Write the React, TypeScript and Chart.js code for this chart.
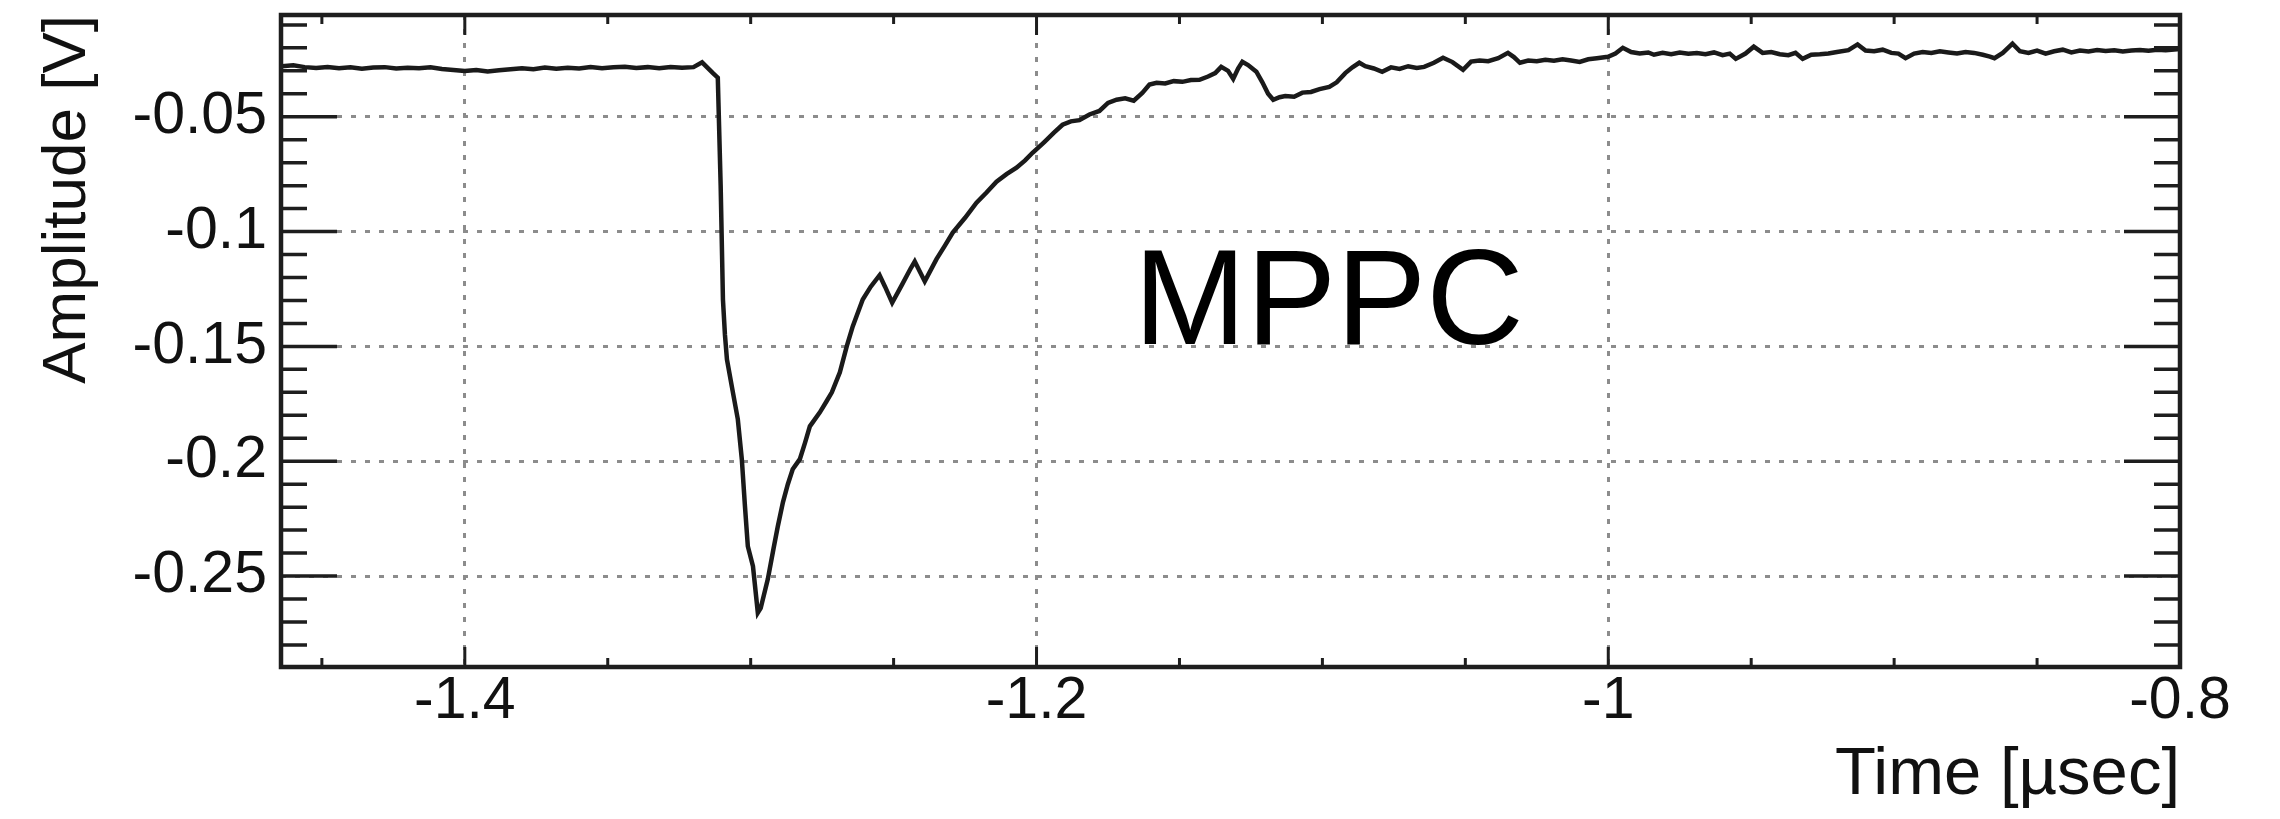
import React, { useEffect, useRef } from "react";
import { Chart, registerables } from "chart.js";

Chart.register(...registerables);

// ---- data ----
const TIME_US = [
  -1.464, -1.460, -1.456, -1.452, -1.448, -1.444, -1.440, -1.436, -1.432, -1.428,
  -1.424, -1.420, -1.416, -1.412, -1.408, -1.404, -1.400, -1.396, -1.392, -1.388,
  -1.384, -1.380, -1.376, -1.372, -1.368, -1.364, -1.360, -1.356, -1.352, -1.348,
  -1.344, -1.340, -1.336, -1.332, -1.328, -1.324, -1.320, -1.317, -1.3132, -1.3115,
  -1.3105, -1.3097, -1.3090, -1.3083, -1.3066, -1.3045, -1.3031, -1.3020, -1.3010, -1.2992,
  -1.2975, -1.2965, -1.2940, -1.2920, -1.2905, -1.2887, -1.2870, -1.2853, -1.2828, -1.2810,
  -1.2793, -1.2758, -1.2735, -1.2716, -1.2688, -1.2664, -1.2643, -1.2608, -1.2580, -1.2549,
  -1.2530, -1.2505, -1.2470, -1.2440, -1.2426, -1.2391, -1.2350, -1.2320, -1.2293, -1.2250,
  -1.2210, -1.2175, -1.2140, -1.2105, -1.2070, -1.2040, -1.2014, -1.1990, -1.1972, -1.1940,
  -1.1909, -1.1880, -1.1850, -1.1815, -1.1780, -1.1750, -1.1720, -1.1690, -1.1660, -1.1630,
  -1.1605, -1.1580, -1.1550, -1.1520, -1.1490, -1.1460, -1.1430, -1.1400, -1.1375, -1.1354,
  -1.1330, -1.1312, -1.1295, -1.1280, -1.1260, -1.1231, -1.1210, -1.1190, -1.1172, -1.1150,
  -1.1130, -1.1099, -1.1070, -1.1040, -1.1010, -1.0976, -1.0950, -1.0920, -1.0895, -1.0871,
  -1.0850, -1.0820, -1.0791, -1.0760, -1.0730, -1.0700, -1.0670, -1.0644, -1.0610, -1.0578,
  -1.0545, -1.0508, -1.0480, -1.0450, -1.0420, -1.0385, -1.0351, -1.0330, -1.0309, -1.0280,
  -1.0250, -1.0220, -1.0190, -1.0160, -1.0130, -1.0100, -1.0070, -1.0040, -1.0001, -0.9975,
  -0.9949, -0.9920, -0.9890, -0.9860, -0.9840, -0.9810, -0.9780, -0.9750, -0.9720, -0.9690,
  -0.9660, -0.9630, -0.9600, -0.9575, -0.9554, -0.9520, -0.9491, -0.9460, -0.9430, -0.9400,
  -0.9370, -0.9345, -0.9320, -0.9290, -0.9260, -0.9230, -0.9200, -0.9160, -0.9128, -0.9100,
  -0.9070, -0.9040, -0.9010, -0.8985, -0.8960, -0.8930, -0.8900, -0.8870, -0.8840, -0.8810,
  -0.8780, -0.8750, -0.8720, -0.8690, -0.8665, -0.8649, -0.8620, -0.8586, -0.8560, -0.8530,
  -0.8500, -0.8470, -0.8440, -0.8410, -0.8380, -0.8350, -0.8320, -0.8290, -0.8260, -0.8230,
  -0.8200, -0.8170, -0.8140, -0.8110, -0.8080, -0.8050, -0.8020, -0.8000,
];

const AMPLITUDE_V = [
  -0.0280, -0.0276, -0.0284, -0.0288, -0.0283, -0.0289, -0.0285, -0.0291, -0.0286, -0.0284,
  -0.0290, -0.0287, -0.0289, -0.0285, -0.0292, -0.0296, -0.0301, -0.0297, -0.0303, -0.0298,
  -0.0293, -0.0289, -0.0293, -0.0286, -0.0291, -0.0287, -0.0290, -0.0284, -0.0289, -0.0285,
  -0.0282, -0.0288, -0.0284, -0.0289, -0.0283, -0.0287, -0.0284, -0.0263, -0.0310, -0.0330,
  -0.0800, -0.1296, -0.1450, -0.1557, -0.1674, -0.1817, -0.1991, -0.2196, -0.2370, -0.2457,
  -0.2660, -0.2640, -0.2513, -0.2380, -0.2283, -0.2178, -0.2100, -0.2035, -0.1991, -0.1920,
  -0.1848, -0.1787, -0.1740, -0.1700, -0.1613, -0.1500, -0.1413, -0.1296, -0.1240, -0.1190,
  -0.1240, -0.1310, -0.1230, -0.1160, -0.1130, -0.1217, -0.1120, -0.1060, -0.1004, -0.0940,
  -0.0874, -0.0830, -0.0783, -0.0750, -0.0722, -0.0690, -0.0657, -0.0630, -0.0609, -0.0570,
  -0.0535, -0.0520, -0.0515, -0.0490, -0.0475, -0.0440, -0.0426, -0.0420, -0.0430, -0.0396,
  -0.0360, -0.0352, -0.0355, -0.0345, -0.0348, -0.0340, -0.0339, -0.0325, -0.0310, -0.0283,
  -0.0300, -0.0335, -0.0290, -0.0261, -0.0275, -0.0304, -0.0350, -0.0400, -0.0426, -0.0415,
  -0.0410, -0.0413, -0.0395, -0.0392, -0.0380, -0.0370, -0.0350, -0.0310, -0.0285, -0.0265,
  -0.0280, -0.0290, -0.0304, -0.0285, -0.0292, -0.0280, -0.0288, -0.0283, -0.0265, -0.0243,
  -0.0262, -0.0296, -0.0260, -0.0255, -0.0258, -0.0245, -0.0222, -0.0240, -0.0265, -0.0255,
  -0.0258, -0.0252, -0.0256, -0.0250, -0.0255, -0.0261, -0.0250, -0.0245, -0.0239, -0.0225,
  -0.0200, -0.0218, -0.0225, -0.0220, -0.0230, -0.0222, -0.0228, -0.0220, -0.0226, -0.0223,
  -0.0228, -0.0220, -0.0232, -0.0225, -0.0248, -0.0225, -0.0195, -0.0222, -0.0218, -0.0228,
  -0.0232, -0.0222, -0.0248, -0.0230, -0.0228, -0.0225, -0.0218, -0.0210, -0.0185, -0.0212,
  -0.0215, -0.0208, -0.0222, -0.0225, -0.0245, -0.0225, -0.0218, -0.0222, -0.0215, -0.0220,
  -0.0225, -0.0218, -0.0222, -0.0230, -0.0238, -0.0245, -0.0222, -0.0182, -0.0215, -0.0222,
  -0.0212, -0.0225, -0.0215, -0.0208, -0.0220, -0.0212, -0.0216, -0.0210, -0.0214, -0.0211,
  -0.0216, -0.0212, -0.0209, -0.0213, -0.0208, -0.0210, -0.0207, -0.0205,
];

const X_RANGE = [-1.4643, -0.8];
const Y_RANGE = [-0.2896, -0.0057];

const X_TICKS = [-1.4, -1.2, -1.0, -0.8];
const X_TICK_LABELS = ["-1.4", "-1.2", "-1", "-0.8"];
const X_MINOR_TICKS = [-1.45, -1.35, -1.3, -1.25, -1.15, -1.1, -1.05, -0.95, -0.9, -0.85];

const Y_TICKS = [-0.25, -0.2, -0.15, -0.1, -0.05];
const Y_TICK_LABELS = ["-0.25", "-0.2", "-0.15", "-0.1", "-0.05"];
const Y_MINOR_TICKS = [
  -0.28, -0.27, -0.26, -0.24, -0.23, -0.22, -0.21, -0.19, -0.18, -0.17, -0.16,
  -0.14, -0.13, -0.12, -0.11, -0.09, -0.08, -0.07, -0.06, -0.04, -0.03, -0.02, -0.01,
];

const X_TITLE = "Time [µsec]";
const Y_TITLE = "Amplitude [V]";
const ANNOTATION_TEXT = "MPPC";
const ANNOTATION_X = -1.166;
const ANNOTATION_Y = -0.149;

const FONT = '"Liberation Sans", Arial, Helvetica, sans-serif';

const labelFor = (ticks: number[], labels: string[], v: number) => {
  const i = ticks.findIndex((t) => Math.abs(t - v) < 1e-9);
  return i >= 0 ? labels[i] : "";
};

const frameAndTicks = {
  id: "frameAndTicks",
  afterDatasetsDraw(chart: any) {
    const { ctx, chartArea: a, scales } = chart;
    const x = scales.x;
    const y = scales.y;
    ctx.save();
    ctx.strokeStyle = "#1e1e1e";
    ctx.lineCap = "butt";
    ctx.lineWidth = 3.5;
    const yTick = (v: number, len: number) => {
      const p = y.getPixelForValue(v);
      ctx.beginPath();
      ctx.moveTo(a.left, p);
      ctx.lineTo(a.left + len, p);
      ctx.moveTo(a.right, p);
      ctx.lineTo(a.right - len, p);
      ctx.stroke();
    };
    Y_TICKS.forEach((v) => yTick(v, 56));
    Y_MINOR_TICKS.forEach((v) => yTick(v, 26));
    ctx.lineWidth = 3;
    const xTick = (v: number, len: number) => {
      const p = x.getPixelForValue(v);
      ctx.beginPath();
      ctx.moveTo(p, a.bottom);
      ctx.lineTo(p, a.bottom - len);
      ctx.moveTo(p, a.top);
      ctx.lineTo(p, a.top + len);
      ctx.stroke();
    };
    X_TICKS.forEach((v) => xTick(v, 20));
    X_MINOR_TICKS.forEach((v) => xTick(v, 9));
    ctx.lineWidth = 4.5;
    ctx.strokeRect(a.left, a.top, a.right - a.left, a.bottom - a.top);
    ctx.restore();
  },
};

const annotation = {
  id: "annotation",
  afterDraw(chart: any) {
    const { ctx, scales } = chart;
    ctx.save();
    ctx.fillStyle = "#000";
    ctx.font = `135px ${FONT}`;
    ctx.textAlign = "left";
    ctx.textBaseline = "alphabetic";
    ctx.fillText(
      ANNOTATION_TEXT,
      scales.x.getPixelForValue(ANNOTATION_X),
      scales.y.getPixelForValue(ANNOTATION_Y)
    );
    ctx.restore();
  },
};

export default function App() {
  const canvasRef = useRef<HTMLCanvasElement | null>(null);

  useEffect(() => {
    document.body.style.margin = "0";
    document.body.style.overflow = "hidden";
    const canvas = canvasRef.current;
    if (!canvas) return;
    const n = Math.min(TIME_US.length, AMPLITUDE_V.length);
    const points = [];
    for (let i = 0; i < n; i++) points.push({ x: TIME_US[i], y: AMPLITUDE_V[i] });

    const chart = new Chart(canvas, {
      type: "line",
      data: {
        datasets: [
          {
            label: "MPPC",
            data: points,
            borderColor: "#1a1a1a",
            borderWidth: 4.5,
            pointRadius: 0,
            tension: 0,
            fill: false,
          },
        ],
      },
      plugins: [frameAndTicks, annotation],
      options: {
        animation: false,
        responsive: true,
        maintainAspectRatio: false,
        parsing: false,
        layout: { padding: { left: 0, top: 15, right: 100, bottom: 0 } },
        plugins: {
          legend: { display: false },
          tooltip: { enabled: false },
          title: { display: false },
        },
        scales: {
          x: {
            type: "linear",
            min: X_RANGE[0],
            max: X_RANGE[1],
            afterBuildTicks: (scale: any) => {
              scale.ticks = X_TICKS.map((v) => ({ value: v }));
            },
            afterFit: (scale: any) => {
              scale.height = 152;
              scale.paddingLeft = 0;
              scale.paddingRight = 0;
              scale.paddingTop = 0;
              scale.paddingBottom = 0;
            },
            grid: {
              color: "#8c8c8c",
              lineWidth: 3,
              drawTicks: false,
              drawOnChartArea: true,
            },
            border: { display: false, dash: [5, 9] },
            ticks: {
              color: "#111",
              padding: 5,
              maxRotation: 0,
              autoSkip: false,
              font: { family: FONT, size: 59, lineHeight: 1 },
              callback: (v: any) => labelFor(X_TICKS, X_TICK_LABELS, Number(v)),
            },
            title: {
              display: true,
              text: X_TITLE,
              align: "end",
              color: "#111",
              font: { family: FONT, size: 67 },
              padding: { top: 0, bottom: 3 },
            },
          },
          y: {
            type: "linear",
            min: Y_RANGE[0],
            max: Y_RANGE[1],
            afterBuildTicks: (scale: any) => {
              scale.ticks = Y_TICKS.map((v) => ({ value: v }));
            },
            afterFit: (scale: any) => {
              scale.width = 281;
              scale.paddingLeft = 0;
              scale.paddingRight = 0;
              scale.paddingTop = 0;
              scale.paddingBottom = 0;
            },
            grid: {
              color: "#8c8c8c",
              lineWidth: 3,
              drawTicks: false,
              drawOnChartArea: true,
            },
            border: { display: false, dash: [5, 9] },
            ticks: {
              color: "#111",
              padding: 14,
              autoSkip: false,
              font: { family: FONT, size: 59 },
              callback: (v: any) => labelFor(Y_TICKS, Y_TICK_LABELS, Number(v)),
            },
            title: {
              display: true,
              text: Y_TITLE,
              align: "end",
              color: "#111",
              font: { family: FONT, size: 62 },
              padding: { top: 31, bottom: 0 },
            },
          },
        },
      } as any,
    });
    return () => chart.destroy();
  }, []);

  return (
    <div style={{ position: "relative", width: "2280px", height: "819px" }}>
      <canvas ref={canvasRef} />
    </div>
  );
}
